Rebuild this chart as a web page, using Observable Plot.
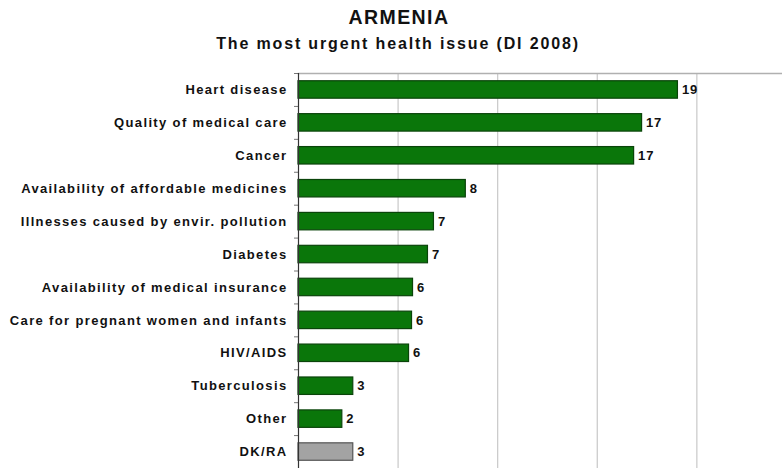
<!DOCTYPE html>
<html>
<head>
<meta charset="utf-8">
<script src="https://cdn.jsdelivr.net/npm/d3@7"></script>
<script src="https://cdn.jsdelivr.net/npm/@observablehq/plot@0.6"></script>
<style>
  html, body { margin: 0; padding: 0; background: #fff; }
  #wrap { width: 782px; height: 468px; overflow: hidden; font-family: "Liberation Sans", Arial, sans-serif; }
  #title { height: 60px; position: relative; }
  #t1 { position: absolute; top: 6px; left: 8px; width: 782px; text-align: center; font-weight: bold; font-size: 19.5px; letter-spacing: 1.4px; color: #111; line-height: 22px; }
  #t2 { position: absolute; top: 34px; left: 7px; width: 782px; text-align: center; font-weight: bold; font-size: 16px; letter-spacing: 1.85px; color: #111; line-height: 20px; }
</style>
</head>
<body>
<div id="wrap">
  <div id="title">
    <div id="t1">ARMENIA</div>
    <div id="t2">The most urgent health issue (DI 2008)</div>
  </div>
  <div id="chart"></div>
</div>
<script>
const categories = [
  "Heart disease",
  "Quality of medical care",
  "Cancer",
  "Availability of affordable medicines",
  "Illnesses caused by envir. pollution",
  "Diabetes",
  "Availability of medical insurance",
  "Care for pregnant women and infants",
  "HIV/AIDS",
  "Tuberculosis",
  "Other",
  "DK/RA"
];
const values = [19.05, 17.25, 16.85, 8.4, 6.8, 6.5, 5.75, 5.7, 5.55, 2.75, 2.2, 2.75];
const valueLabels = ["19", "17", "17", "8", "7", "7", "6", "6", "6", "3", "2", "3"];
const isResidual = [false, false, false, false, false, false, false, false, false, false, false, true];
const gridValues = [5, 10, 15, 20];

const data = categories.map((c, i) => ({cat: c, value: values[i], label: valueLabels[i], residual: isResidual[i]}));

const chart = Plot.plot({
  width: 782,
  height: 408,
  marginTop: 13,
  marginBottom: 0,
  marginLeft: 298,
  marginRight: 0,
  style: {fontFamily: "'Liberation Sans', Arial, sans-serif", background: "#fff"},
  x: {domain: [0, 24.3], axis: null},
  y: {domain: categories, paddingInner: 0.47, paddingOuter: 0.235, round: false, label: null},
  marks: [
    Plot.ruleX(gridValues, {stroke: "#c8c8c8", strokeWidth: 1.2}),
    Plot.frame({anchor: "top", stroke: "#b0b0b0", strokeWidth: 1.5}),
    Plot.barX(data, {
      y: "cat", x: "value",
      fill: d => d.residual ? "#a3a3a3" : "#0a760a",
      stroke: d => d.residual ? "#555555" : "#0a440a",
      strokeWidth: 1.2
    }),
    Plot.ruleY(categories, {y: d => d, dy: -16.45, x1: -0.2, x2: 0, stroke: "#777"}),
    Plot.ruleX([0], {stroke: "#333", strokeWidth: 1.2}),
    Plot.text(data, {
      y: "cat", x: "value", text: "label",
      dx: 4, textAnchor: "start",
      fontWeight: "bold", fontSize: 13, fill: "#111"
    }),
    Plot.axisY({
      tickSize: 0, tickPadding: 11, fontSize: 13, fontWeight: "bold",
      label: null, fill: "#111"
    })
  ]
});
chart.querySelectorAll('[aria-label="y-axis tick label"] text').forEach(t => t.setAttribute("letter-spacing", "1.35"));
chart.querySelectorAll('[aria-label="text"] text').forEach(t => t.setAttribute("letter-spacing", "0.8"));
document.getElementById("chart").appendChild(chart);
</script>
</body>
</html>
